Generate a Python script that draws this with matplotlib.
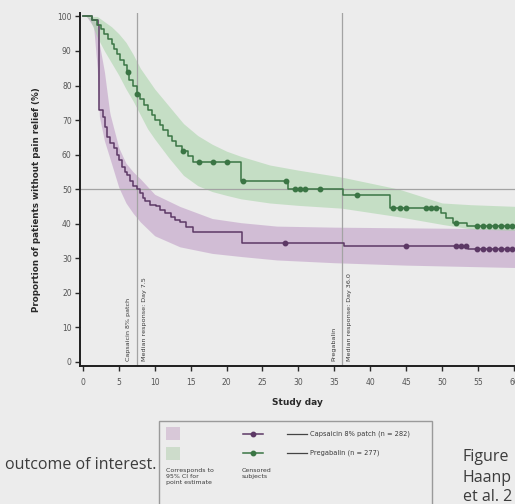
import numpy as np
import matplotlib
matplotlib.use("Agg")
import matplotlib.pyplot as plt
from matplotlib.patches import Rectangle
from matplotlib.lines import Line2D

# ---- Kaplan-Meier estimates: proportion without pain relief (%) ----
preg_days = [0.0, 1.3, 2.0, 2.5, 3.0, 3.5, 4.0, 4.4, 4.8, 5.2, 5.7, 6.1, 6.4, 7.0,
             7.5, 8.0, 8.5, 9.1, 9.6, 10.1, 10.7, 11.2, 11.8, 12.4, 13.0, 13.8,
             14.6, 15.3, 22.0, 28.6, 36.2, 42.8, 49.9, 50.6, 51.5, 53.5, 60.3]
preg_vals = [100, 99, 97.5, 96.5, 95, 93.5, 92, 90.5, 89, 87.5, 86, 84, 81.5, 80,
             77.5, 76, 74.5, 73, 71.5, 70, 68.5, 67, 65.5, 64, 62.5, 61,
             59.5, 58, 52.3, 50, 48.3, 44.6, 43, 41.6, 40.2, 39.4, 39.4]

caps_days = [0.0, 1.3, 2.1, 2.3, 2.8, 3.1, 3.3, 3.8, 4.3, 4.7, 5.0, 5.4, 5.8, 6.1,
             6.6, 7.0, 7.5, 7.9, 8.3, 8.7, 9.4, 10.2, 10.8, 11.5, 12.2, 12.8, 13.5,
             14.3, 15.3, 22.2, 36.3, 53.6, 60.3]
caps_vals = [100, 99, 97.5, 73, 71, 68, 65, 63.5, 62, 60, 58.5, 56.5, 55, 54,
             52.5, 51, 50, 49, 47.5, 46.5, 45.5, 45, 44, 43, 42, 41, 40.5,
             39, 37.7, 34.3, 33.6, 32.7, 32.7]

# censored subjects (days)
preg_cens = [6.3, 7.5, 13.9, 16.2, 18.1, 20.0, 22.3, 28.3, 29.5, 30.2, 30.9, 33.0,
             38.1, 43.1, 44.1, 45.0, 47.8, 48.5, 49.2, 52.0, 54.8, 55.7, 56.6,
             57.4, 58.2, 59.0, 59.8]
caps_cens = [28.1, 45.0, 51.9, 52.6, 53.3, 54.8, 55.7, 56.6, 57.4, 58.2, 59.0, 59.8]

# 95% confidence bands
preg_ci_days = [0.5, 1.0, 2.0, 3.0, 4.0, 5.0, 6.0, 7.0, 8.0, 9.0, 10.0, 12.0, 14.0,
                16.0, 18.0, 20.0, 22.0, 26.0, 30.0, 36.0, 44.0, 50.0, 54.0, 60.5]
preg_ci_hi = [100, 100, 100, 98.5, 97, 95, 92.5, 89, 85, 82, 79, 74, 69,
              65.5, 63, 61, 59.5, 57, 55.5, 53.5, 50, 46, 45.5, 45]
preg_ci_lo = [100, 99, 94, 90, 86.5, 83, 79, 75.5, 71.5, 67.5, 64.5, 59, 54,
              51, 49.3, 48.2, 47.2, 46, 45.3, 44.5, 42, 39.8, 38.5, 38]

caps_ci_days = [0.5, 1.5, 2.0, 2.3, 3.0, 3.75, 5.0, 6.0, 7.0, 8.0, 10.0, 13.5, 18.0,
                22.0, 27.0, 35.0, 45.0, 60.5]
caps_ci_hi = [100, 99.5, 97, 92, 84, 72, 62, 57.5, 55, 53, 48.5, 45, 41.5,
              40.3, 39.3, 39, 38.8, 38.5]
caps_ci_lo = [100, 97, 85, 71, 64, 59, 50.5, 46, 43, 40.5, 36.5, 33.3, 31.4,
              30.5, 29.5, 28.7, 28, 27.3]

median_days = [7.5, 36.0]
median_labels = ["Capsaicin 8% patch", "Pregabalin"]

x_ticks = list(range(0, 61, 5))
y_ticks = list(range(0, 101, 10))

series_names = ["Capsaicin 8% patch (n = 282)", "Pregabalin (n = 277)"]

# ---- styling ----
BG = "#ececec"
GREEN = "#3a7544"
PURPLE = "#5c3865"
GREEN_FILL = "#9fd19f"
PURPLE_FILL = "#b890c0"
REF = "#a3a3a3"
TXT = "#3a3a3a"

W, H = 515, 504
fig = plt.figure(figsize=(W / 100, H / 100), dpi=100, facecolor=BG)

ax_l, ax_r, ax_top, ax_bot = 80, 515, 13, 366
ax = fig.add_axes([ax_l / W, 1 - ax_bot / H, (ax_r - ax_l) / W, (ax_bot - ax_top) / H])
ax.set_facecolor(BG)

ax.set_xlim(-0.4, 60.15)
ax.set_ylim(-1.2, 101)


def step_value(days, vals, t):
    i = np.searchsorted(days, t, side="right") - 1
    return np.asarray(vals)[i]


# confidence bands
fine = np.linspace(0.5, 60.5, 600)
ax.fill_between(fine, np.interp(fine, caps_ci_days, caps_ci_lo),
                np.interp(fine, caps_ci_days, caps_ci_hi),
                color=PURPLE_FILL, alpha=0.5, lw=0, zorder=1)
ax.fill_between(fine, np.interp(fine, preg_ci_days, preg_ci_lo),
                np.interp(fine, preg_ci_days, preg_ci_hi),
                color=GREEN_FILL, alpha=0.5, lw=0, zorder=1)

# reference lines
ax.axhline(50, color=REF, lw=0.9, zorder=2)
for d in median_days:
    ax.axvline(d, color=REF, lw=0.9, zorder=2)

# survival curves
ax.step(caps_days, caps_vals, where="post", color=PURPLE, lw=1.1, zorder=3)
ax.step(preg_days, preg_vals, where="post", color=GREEN, lw=1.1, zorder=3)

# censor marks
ax.plot(caps_cens, step_value(caps_days, caps_vals, np.array(caps_cens)), "o",
        color=PURPLE, ms=3.2, zorder=4)
ax.plot(preg_cens, step_value(preg_days, preg_vals, np.array(preg_cens)), "o",
        color=GREEN, ms=3.2, zorder=4)

# median labels (rotated, straddling the vertical lines)
for d, name in zip(median_days, median_labels):
    ax.text(d - 1.1, 0.3, name, rotation=90, ha="center", va="bottom",
            fontsize=4.6, color=TXT, zorder=5)
    ax.text(d + 1.1, 0.3, f"Median response: Day {d:.1f}", rotation=90,
            ha="center", va="bottom", fontsize=4.6, color=TXT, zorder=5)

# axes
for s in ["top", "right"]:
    ax.spines[s].set_visible(False)
for s in ["left", "bottom"]:
    ax.spines[s].set_color("#1e1e1e")
    ax.spines[s].set_linewidth(1.4)
ax.set_xticks(x_ticks)
ax.set_yticks(y_ticks)
ax.tick_params(axis="both", colors="#2a2a2a", labelcolor="#555555",
               labelsize=5.5, length=3.5, width=1.0, pad=2.5)
ax.tick_params(axis="x", pad=5)
ax.set_xlabel("Study day", fontsize=6.5, fontweight="bold", color="#2a2a2a")
ax.xaxis.set_label_coords(0.499, -0.09)
ax.set_ylabel("Proportion of patients without pain relief (%)", fontsize=6.3,
              fontweight="bold", color="#2a2a2a")
ax.yaxis.set_label_coords(-0.09, 0.47)

# ---- legend box (figure pixel coordinates) ----
def fx(px):
    return px / W


def fy(py):
    return 1 - py / H


fig.add_artist(Rectangle((fx(159), fy(510)), fx(432) - fx(159), fy(421) - fy(510),
                         transform=fig.transFigure, facecolor=BG,
                         edgecolor="#9a9a9a", lw=1.0))
fig.add_artist(Rectangle((fx(166), fy(440)), fx(14), fy(427) - fy(440),
                         transform=fig.transFigure, facecolor="#d8c8d8",
                         edgecolor="none"))
fig.add_artist(Rectangle((fx(166), fy(460)), fx(14), fy(447) - fy(460),
                         transform=fig.transFigure, facecolor="#cddccb",
                         edgecolor="none"))
for yy, col, name in [(434, PURPLE, series_names[0]), (453, GREEN, series_names[1])]:
    fig.add_artist(Line2D([fx(243), fx(263)], [fy(yy), fy(yy)], color=col, lw=1.1,
                          transform=fig.transFigure))
    fig.add_artist(Line2D([fx(253)], [fy(yy)], color=col, marker="o", ms=3.2,
                          lw=0, transform=fig.transFigure))
    fig.add_artist(Line2D([fx(287), fx(307)], [fy(yy), fy(yy)], color="#444444",
                          lw=0.9, transform=fig.transFigure))
    fig.text(fx(310), fy(yy), name, fontsize=4.8, color=TXT, va="center", ha="left")

fig.text(fx(166), fy(468), "Corresponds to\n95% CI for\npoint estimate",
         fontsize=4.5, color=TXT, va="top", ha="left", linespacing=1.3)
fig.text(fx(242), fy(468), "Censored\nsubjects", fontsize=4.5, color=TXT,
         va="top", ha="left", linespacing=1.3)

# surrounding page text
PAGE = dict(fontsize=11.5, color="#3c3c3c", family=["Open Sans", "DejaVu Sans"])
fig.text(fx(156), fy(465), "outcome of interest.", ha="right", va="center", **PAGE)
fig.text(fx(463), fy(457), "Figure", ha="left", va="center", **PAGE)
fig.text(fx(463), fy(478), "Haanp", ha="left", va="center", **PAGE)
fig.text(fx(463), fy(497), "et al. 2", ha="left", va="center", **PAGE)

fig.savefig("out.png", dpi=100, facecolor=BG)
